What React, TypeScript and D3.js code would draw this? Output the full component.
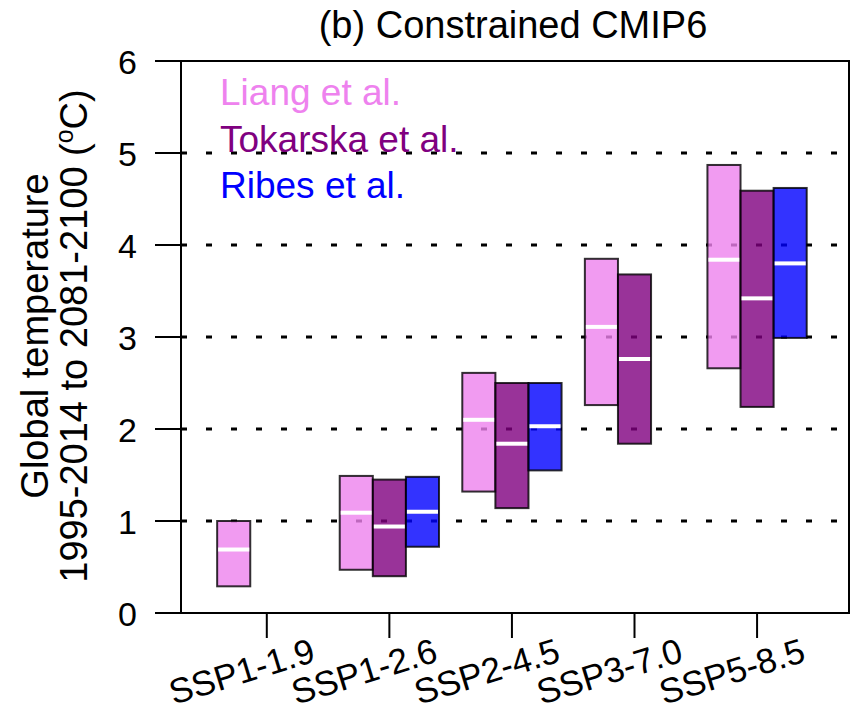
import * as d3 from "d3";
import React from "react";

const scenarios = ["SSP1-1.9", "SSP1-2.6", "SSP2-4.5", "SSP3-7.0", "SSP5-8.5"];

// 5-95% ranges and medians per study (null = not available)
const liangLow = [0.29, 0.47, 1.32, 2.26, 2.66];
const liangMid = [0.69, 1.09, 2.1, 3.11, 3.84];
const liangHigh = [1.0, 1.49, 2.61, 3.85, 4.87];

const tokarskaLow = [null, 0.4, 1.14, 1.84, 2.24];
const tokarskaMid = [null, 0.94, 1.84, 2.76, 3.42];
const tokarskaHigh = [null, 1.45, 2.5, 3.68, 4.59];

const ribesLow = [null, 0.72, 1.55, null, 2.99];
const ribesMid = [null, 1.1, 2.03, null, 3.8];
const ribesHigh = [null, 1.48, 2.5, null, 4.62];

const yTicks = [0, 1, 2, 3, 4, 5, 6];
const gridValues = [1, 2, 3, 4, 5];

const studies = [
  { name: "Liang et al.", text: "#EE82EE", fill: "rgba(238,130,238,0.8)", low: liangLow, mid: liangMid, high: liangHigh, offset: -1 },
  { name: "Tokarska et al.", text: "#800080", fill: "rgba(128,0,128,0.8)", low: tokarskaLow, mid: tokarskaMid, high: tokarskaHigh, offset: 0 },
  { name: "Ribes et al.", text: "#0000FF", fill: "rgba(0,0,255,0.8)", low: ribesLow, mid: ribesMid, high: ribesHigh, offset: 1 },
];

const FONT = "'Liberation Sans', Arial, Helvetica, sans-serif";

const App = () => {
  const width = 854;
  const height = 714;

  const x = d3.scaleLinear().domain([0.3, 5.75]).range([181, 849]);
  const y = d3.scaleLinear().domain([0, 6]).range([613, 61]);
  const barW = 0.27;

  return (
    <div style={{ position: "absolute", left: 0, top: 0 }}>
      <svg width={width} height={height} style={{ display: "block", background: "#fff" }} fontFamily={FONT}>
        {/* title */}
        <text x={513} y={38} fontSize={38} textAnchor="middle" fill="#000">
          (b) Constrained CMIP6
        </text>

        {/* dotted grid */}
        {gridValues.map((v) => (
          <line
            key={v}
            x1={x(0.3)}
            x2={x(5.75)}
            y1={y(v)}
            y2={y(v)}
            stroke="#000"
            strokeWidth={3}
            strokeDasharray="6,19"
          />
        ))}

        {/* boxes */}
        {studies.map((s) =>
          scenarios.map((sc, i) => {
            const lo = s.low[i];
            const hi = s.high[i];
            const md = s.mid[i];
            if (lo == null || hi == null || md == null) return null;
            const c = i + 1 + s.offset * barW;
            const x0 = x(c - barW / 2);
            const x1 = x(c + barW / 2);
            return (
              <g key={s.name + sc}>
                <rect
                  x={x0}
                  y={y(hi)}
                  width={x1 - x0}
                  height={y(lo) - y(hi)}
                  fill={s.fill}
                  stroke="rgba(0,0,0,0.8)"
                  strokeWidth={2}
                />
                <line x1={x0 + 1} x2={x1 - 1} y1={y(md)} y2={y(md)} stroke="#fff" strokeWidth={4} />
              </g>
            );
          })
        )}

        {/* legend */}
        {studies.map((s, i) => (
          <text key={s.name} x={220} y={105 + i * 46.5} fontSize={37} fill={s.text}>
            {s.name}
          </text>
        ))}

        {/* frame */}
        <rect x={x(0.3)} y={y(6)} width={x(5.75) - x(0.3)} height={y(0) - y(6)} fill="none" stroke="#000" strokeWidth={2} />

        {/* y axis */}
        {yTicks.map((t) => (
          <g key={t}>
            <line x1={155} x2={x(0.3)} y1={y(t)} y2={y(t)} stroke="#000" strokeWidth={2} />
            <text x={137} y={y(t) + 12.5} fontSize={34} textAnchor="end" fill="#000">
              {t}
            </text>
          </g>
        ))}

        {/* x axis */}
        {scenarios.map((sc, i) => (
          <g key={sc}>
            <line x1={x(i + 1)} x2={x(i + 1)} y1={y(0)} y2={y(0) + 25} stroke="#000" strokeWidth={2} />
            <text
              transform={`translate(${x(i + 1) + 50},661) rotate(-17)`}
              fontSize={35}
              textAnchor="end"
              fill="#000"
            >
              {sc}
            </text>
          </g>
        ))}

        {/* y axis title */}
        <text transform="translate(48,336) rotate(-90)" fontSize={38} textAnchor="middle" fill="#000">
          Global temperature
        </text>
        <text transform="translate(87,336) rotate(-90)" fontSize={38} textAnchor="middle" fill="#000">
          1995-2014 to 2081-2100 (
          <tspan fontSize={25} dy={-14}>o</tspan>
          <tspan dy={14}>C)</tspan>
        </text>
      </svg>
    </div>
  );
};

export default App;
